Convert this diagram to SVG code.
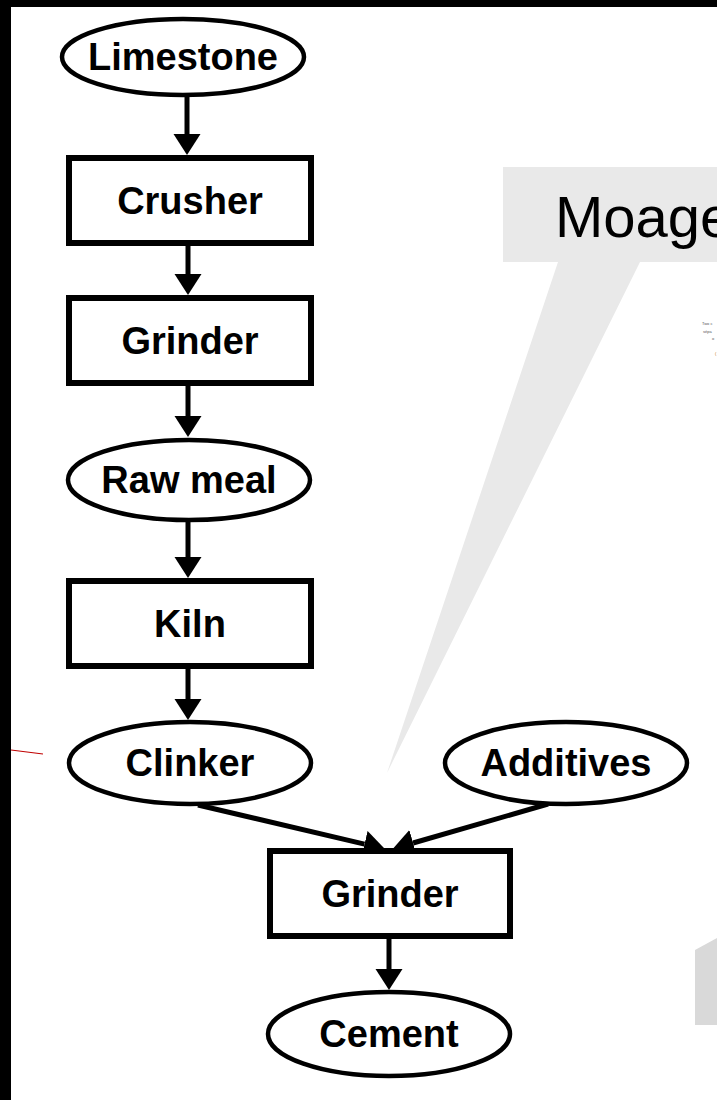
<svg xmlns="http://www.w3.org/2000/svg" width="717" height="1100" viewBox="0 0 717 1100">
<style>
.box{fill:#fff;stroke:#000;stroke-width:6}
.ell{fill:#fff;stroke:#000;stroke-width:4.5}
.lbl{font-family:"Liberation Sans",Arial,sans-serif;font-weight:bold;font-size:38px;fill:#000;text-anchor:middle}
.edge{stroke:#000;stroke-width:5;fill:none;marker-end:url(#ah)}
.tiny{font-family:"Liberation Sans",Arial,sans-serif;font-size:4px;fill:#555}
</style>
<defs>
<marker id="ah" markerUnits="userSpaceOnUse" markerWidth="22" markerHeight="28" refX="0" refY="13.5" orient="auto" viewBox="0 0 22 28">
<path d="M0,0 L21,13.5 L0,27 Z" fill="#000"/>
</marker>
</defs>
<rect x="0" y="0" width="717" height="1100" fill="#fff"/>
<g id="callout">
<polygon points="503,167 717,167 717,262 640,262 387,773 558,262 503,262" fill="#e9e9e9"/>
<text x="555" y="237" font-family="Liberation Sans,Arial,sans-serif" font-size="58" fill="#000">Moage</text>
</g>
<g id="tiny-text">
<text class="tiny" x="702" y="325">Two c</text>
<text class="tiny" x="703" y="333">sépa</text>
<text class="tiny" x="712" y="340">o</text>
<text class="tiny" x="715" y="355" style="fill:#c07000">(</text>
</g>
<rect id="corner-shape" x="695" y="938" width="22" height="87" fill="#d9d9d9"/>
<polygon points="695,950 717,938 717,930 695,930" fill="#fff"/>
<g id="connectors">
<line class="edge" x1="187" y1="97" x2="187" y2="134"/>
<line class="edge" x1="188" y1="246" x2="188" y2="274"/>
<line class="edge" x1="188" y1="386" x2="188" y2="416"/>
<line class="edge" x1="188" y1="522" x2="188" y2="557"/>
<line class="edge" x1="188" y1="669" x2="188" y2="699"/>
<line class="edge" x1="198" y1="805" x2="364.5" y2="844.1"/>
<line class="edge" x1="548" y1="804" x2="413.1" y2="843"/>
<line class="edge" x1="389" y1="939" x2="389" y2="969"/>
</g>
<g id="limestone"><ellipse class="ell" cx="183" cy="57" rx="121" ry="38"/><text class="lbl" x="183" y="70">Limestone</text></g>
<g id="crusher"><rect class="box" x="69" y="158" width="242" height="85"/><text class="lbl" x="190" y="214">Crusher</text></g>
<g id="grinder1"><rect class="box" x="69" y="298" width="242" height="85"/><text class="lbl" x="190" y="354">Grinder</text></g>
<g id="rawmeal"><ellipse class="ell" cx="189" cy="480" rx="121" ry="40"/><text class="lbl" x="189" y="493">Raw meal</text></g>
<g id="kiln"><rect class="box" x="69" y="581" width="242" height="85"/><text class="lbl" x="190" y="637">Kiln</text></g>
<g id="clinker"><ellipse class="ell" cx="190" cy="763" rx="121" ry="41"/><text class="lbl" x="190" y="776">Clinker</text></g>
<g id="additives"><ellipse class="ell" cx="566" cy="763" rx="121" ry="41"/><text class="lbl" x="566" y="776">Additives</text></g>
<g id="grinder2"><rect class="box" x="270" y="851" width="240" height="85"/><text class="lbl" x="390" y="907">Grinder</text></g>
<g id="cement"><ellipse class="ell" cx="389" cy="1034" rx="121" ry="42"/><text class="lbl" x="389" y="1047">Cement</text></g>
<line id="red-mark" x1="11" y1="750" x2="43" y2="754" stroke="#c00000" stroke-width="1.2"/>
<g id="frame">
<rect x="0" y="0" width="717" height="7" fill="#000"/>
<rect x="0" y="0" width="11" height="1100" fill="#000"/>
</g>
</svg>
